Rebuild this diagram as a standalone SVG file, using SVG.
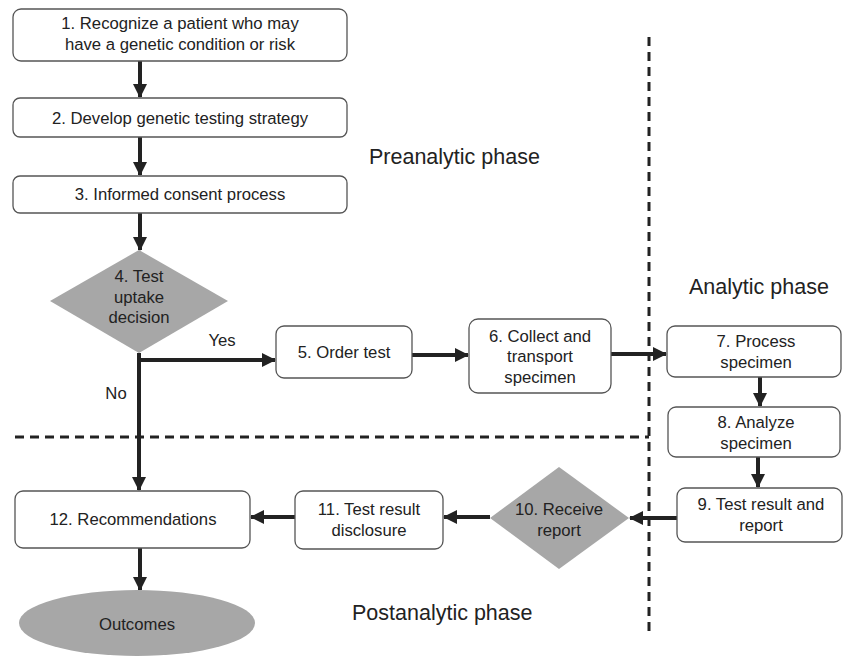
<svg xmlns="http://www.w3.org/2000/svg" width="843" height="656" viewBox="0 0 843 656">
<style>
.box{fill:#fff;stroke:#555;stroke-width:1.3}
.shape{fill:#a7a7a7;stroke:none}
.t{font-family:"Liberation Sans",Arial,sans-serif;font-size:16.7px;fill:#222;text-anchor:middle}
.ph{font-family:"Liberation Sans",Arial,sans-serif;font-size:21.5px;fill:#222}
.c{stroke:#222;stroke-width:4;fill:none}
.d{stroke:#222;stroke-width:3;stroke-dasharray:9,6;fill:none}
</style>
<defs>
<marker id="ah" markerUnits="userSpaceOnUse" markerWidth="14" markerHeight="14" viewBox="0 0 14 14" refX="13" refY="7" orient="auto">
<path d="M0,0 L14,7 L0,14 Z" fill="#222"/>
</marker>
</defs>
<rect width="843" height="656" fill="#fff"/>
<g id="dividers">
<line class="d" x1="649" y1="37" x2="649" y2="636"/>
<line class="d" x1="15" y1="437" x2="649" y2="437"/>
</g>
<g id="connectors">
<line class="c" x1="140" y1="61" x2="140" y2="97" marker-end="url(#ah)"/>
<line class="c" x1="140" y1="137" x2="140" y2="175" marker-end="url(#ah)"/>
<line class="c" x1="140" y1="213" x2="140" y2="250" marker-end="url(#ah)"/>
<line class="c" x1="139" y1="353" x2="139" y2="490" marker-end="url(#ah)"/>
<line class="c" x1="137" y1="360" x2="275" y2="360" marker-end="url(#ah)"/>
<line class="c" x1="412" y1="355" x2="468" y2="355" marker-end="url(#ah)"/>
<line class="c" x1="611" y1="354" x2="666" y2="354" marker-end="url(#ah)"/>
<line class="c" x1="760" y1="377" x2="760" y2="406" marker-end="url(#ah)"/>
<line class="c" x1="758" y1="457" x2="758" y2="487" marker-end="url(#ah)"/>
<line class="c" x1="677" y1="518" x2="630" y2="518" marker-end="url(#ah)"/>
<line class="c" x1="490" y1="517" x2="444" y2="517" marker-end="url(#ah)"/>
<line class="c" x1="295" y1="517" x2="251" y2="517" marker-end="url(#ah)"/>
<line class="c" x1="140" y1="548" x2="140" y2="590" marker-end="url(#ah)"/>
<text class="t" x="222" y="346">Yes</text>
<text class="t" x="116" y="399">No</text>
</g>
<g id="n1"><rect class="box" x="13" y="9" width="334" height="52" rx="8"/>
<text class="t" x="180" y="29">1. Recognize a patient who may</text>
<text class="t" x="180" y="50">have a genetic condition or risk</text></g>
<g id="n2"><rect class="box" x="13" y="98" width="334" height="39" rx="7"/>
<text class="t" x="180" y="124">2. Develop genetic testing strategy</text></g>
<g id="n3"><rect class="box" x="13" y="176" width="334" height="37" rx="7"/>
<text class="t" x="180" y="200">3. Informed consent process</text></g>
<g id="n4"><polygon class="shape" points="139,250 228,301 139,353 50,301"/>
<text class="t" x="139" y="282">4. Test</text>
<text class="t" x="139" y="303">uptake</text>
<text class="t" x="139" y="323">decision</text></g>
<g id="n5"><rect class="box" x="276" y="326" width="136" height="52" rx="8"/>
<text class="t" x="344" y="358">5. Order test</text></g>
<g id="n6"><rect class="box" x="469" y="319" width="142" height="74" rx="9"/>
<text class="t" x="540" y="342">6. Collect and</text>
<text class="t" x="540" y="362">transport</text>
<text class="t" x="540" y="383">specimen</text></g>
<g id="n7"><rect class="box" x="667" y="326" width="174" height="51" rx="8"/>
<text class="t" x="756" y="347">7. Process</text>
<text class="t" x="756" y="368">specimen</text></g>
<g id="n8"><rect class="box" x="668" y="407" width="172" height="50" rx="8"/>
<text class="t" x="756" y="428">8. Analyze</text>
<text class="t" x="756" y="449">specimen</text></g>
<g id="n9"><rect class="box" x="677" y="488" width="165" height="54" rx="8"/>
<text class="t" x="761" y="510">9. Test result and</text>
<text class="t" x="761" y="531">report</text></g>
<g id="n10"><polygon class="shape" points="559,467 629,518 559,569 490,518"/>
<text class="t" x="559" y="515">10. Receive</text>
<text class="t" x="559" y="536">report</text></g>
<g id="n11"><rect class="box" x="295" y="491" width="148" height="58" rx="8"/>
<text class="t" x="369" y="515">11. Test result</text>
<text class="t" x="369" y="536">disclosure</text></g>
<g id="n12"><rect class="box" x="15" y="491" width="235" height="57" rx="8"/>
<text class="t" x="133" y="525">12. Recommendations</text></g>
<g id="outcomes"><ellipse class="shape" cx="137" cy="623" rx="118" ry="33"/>
<text class="t" x="137" y="630">Outcomes</text></g>
<g id="phases">
<text class="ph" x="369" y="164">Preanalytic phase</text>
<text class="ph" x="689" y="294">Analytic phase</text>
<text class="ph" x="352" y="620">Postanalytic phase</text>
</g>
</svg>
